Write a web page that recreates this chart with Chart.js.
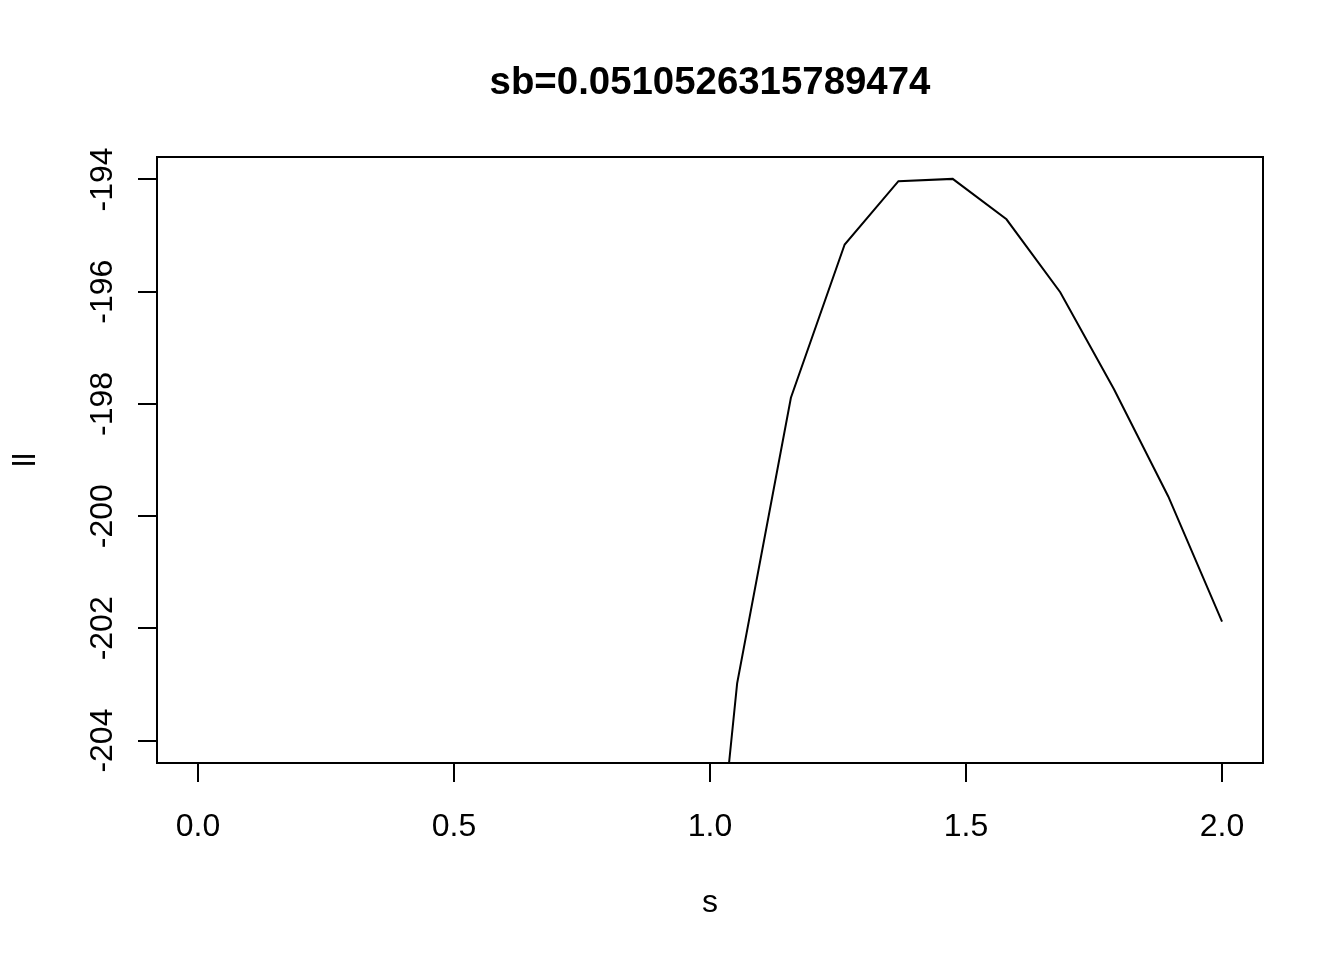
<!DOCTYPE html>
<html>
<head>
<meta charset="utf-8">
<script src="https://cdn.jsdelivr.net/npm/chart.js@4.4.1/dist/chart.umd.min.js"></script>
<style>
  html, body { margin: 0; padding: 0; background: #fff; }
  canvas { display: block; }
</style>
</head>
<body>
<canvas id="grafico" width="1344" height="960"></canvas>
<script>
// valores de s (seq 0..2, 20 puntos) y log-verosimilitud ll
const sValores = [0, 0.105, 0.211, 0.316, 0.421, 0.526, 0.632, 0.737, 0.842, 0.947,
                  1.053, 1.158, 1.263, 1.368, 1.474, 1.579, 1.684, 1.789, 1.895, 2.0];
const llValores = [null, null, null, null, null, null, null, null, null, -212.5,
                   -202.98, -197.89, -195.16, -194.03, -193.99, -194.71, -196.01, -197.74, -199.65, -201.88];
const ticksX = [0, 0.5, 1, 1.5, 2];
const etiquetasX = ['0.0', '0.5', '1.0', '1.5', '2.0'];
const ticksY = [-194, -196, -198, -200, -202, -204];
const titulo = 'sb=0.0510526315789474';

const FUENTE = '"Liberation Sans", Arial, Helvetica, sans-serif';

// Ejes estilo R dibujados a mano sobre las escalas de Chart.js
const ejesR = {
    id: 'ejesR',
    afterDraw(chart) {
        const ctx = chart.ctx;
        const a = chart.chartArea;
        const x = chart.scales.x;
        const y = chart.scales.y;
        ctx.save();
        ctx.strokeStyle = '#000';
        ctx.fillStyle = '#000';
        ctx.lineWidth = 2;

        // caja
        ctx.strokeRect(a.left, a.top, a.right - a.left, a.bottom - a.top);

        // eje x
        ctx.beginPath();
        ctx.moveTo(x.getPixelForValue(ticksX[0]), a.bottom);
        ctx.lineTo(x.getPixelForValue(ticksX[ticksX.length - 1]), a.bottom);
        ticksX.forEach(v => {
            const px = Math.round(x.getPixelForValue(v));
            ctx.moveTo(px, a.bottom);
            ctx.lineTo(px, a.bottom + 19);
        });
        ctx.stroke();
        ctx.font = '32px ' + FUENTE;
        ctx.textAlign = 'center';
        ctx.textBaseline = 'alphabetic';
        ticksX.forEach((v, i) => {
            ctx.fillText(etiquetasX[i], x.getPixelForValue(v), 836);
        });

        // eje y
        ctx.beginPath();
        ctx.moveTo(a.left, y.getPixelForValue(ticksY[0]));
        ctx.lineTo(a.left, y.getPixelForValue(ticksY[ticksY.length - 1]));
        ticksY.forEach(v => {
            const py = Math.round(y.getPixelForValue(v));
            ctx.moveTo(a.left, py);
            ctx.lineTo(a.left - 19, py);
        });
        ctx.stroke();
        ticksY.forEach(v => {
            ctx.save();
            ctx.translate(112, y.getPixelForValue(v));
            ctx.rotate(-Math.PI / 2);
            ctx.fillText(String(v), 0, 0);
            ctx.restore();
        });

        // títulos de ejes
        ctx.fillText('s', (a.left + a.right) / 2, 912);
        ctx.save();
        ctx.translate(35, (a.top + a.bottom) / 2);
        ctx.rotate(-Math.PI / 2);
        ctx.fillText('ll', 0, 0);
        ctx.restore();

        // título principal
        ctx.font = 'bold 38.4px ' + FUENTE;
        ctx.fillText(titulo, (a.left + a.right) / 2, 94);
        ctx.restore();
    }
};

const puntos = sValores.map((s, i) => ({ x: s, y: llValores[i] }));

new Chart(document.getElementById('grafico'), {
    type: 'line',
    data: {
        datasets: [{
            data: puntos,
            borderColor: '#000',
            borderWidth: 2,
            pointRadius: 0,
            tension: 0,
            fill: false,
            spanGaps: false
        }]
    },
    options: {
        responsive: false,
        animation: false,
        devicePixelRatio: 1,
        layout: { padding: { left: 157, right: 81, top: 157, bottom: 197 } },
        plugins: { legend: { display: false }, title: { display: false }, tooltip: { enabled: false } },
        scales: {
            x: { type: 'linear', min: -0.08, max: 2.08, display: false },
            y: { type: 'linear', min: -204.4, max: -193.6, display: false }
        }
    },
    plugins: [ejesR]
});
</script>
</body>
</html>
